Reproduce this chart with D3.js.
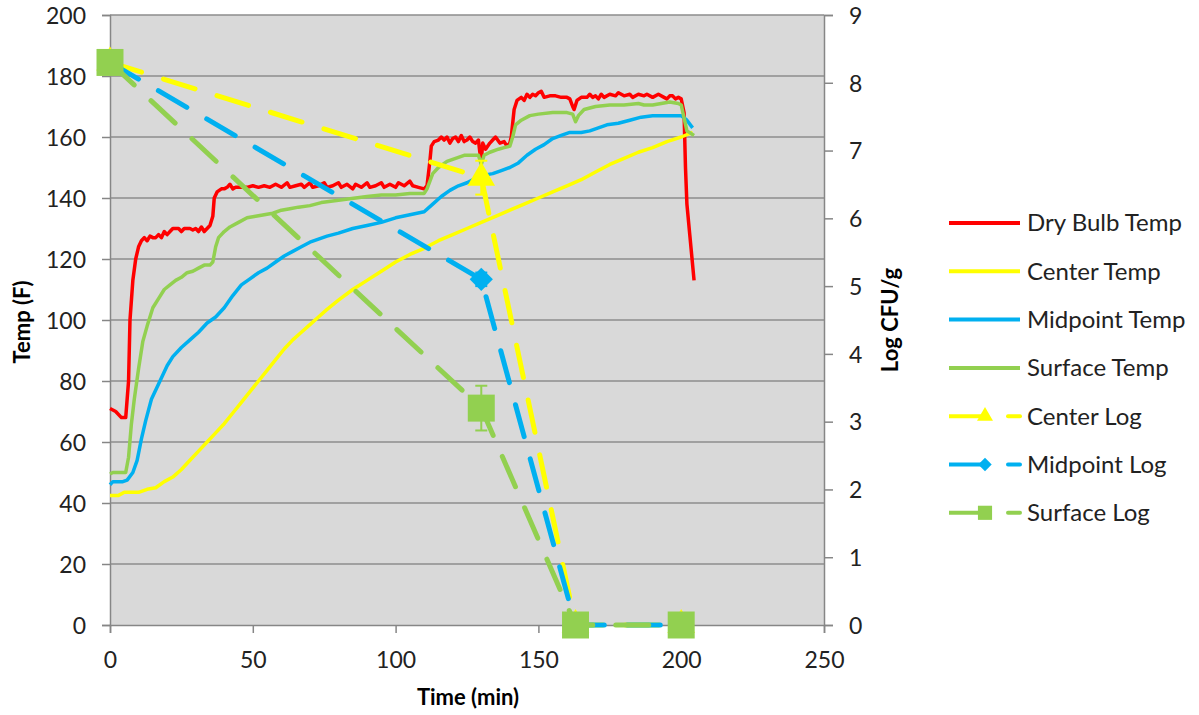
<!doctype html>
<html lang="en">

<head>
    <meta charset="UTF-8" />
    <script src="https://d3js.org/d3.v7.min.js"></script>
    <title>Temp and Log CFU/g</title>
    <style>
        body { margin: 0; background: white; }
    </style>
</head>

<body>
    <div id="chart"></div>
    <script type="module">
        // Data: [time (min), temp (F)]
        const dryBulbTemp = [[0, 71], [2, 70], [4, 68], [5.5, 68], [6.5, 80], [7, 100], [8, 113], [9, 120], [10, 124], [11, 126], [12, 127], [13, 126], [14, 127.5], [15, 127], [16, 127], [17, 128], [18, 127], [19, 129], [20, 128], [21, 129], [22, 130], [24, 130], [25, 129], [26, 130], [28, 130], [29, 129.5], [30, 130], [31, 129], [32, 130.5], [33, 129], [34, 130], [35, 131], [36, 134], [36.5, 140], [37.5, 142], [39, 143], [40, 143], [41, 143.5], [42, 144.5], [43, 143], [44, 143.5], [46, 143.5], [48, 143.5], [50, 144], [52, 143.5], [54, 144], [56, 143.5], [58, 144.5], [60, 143.5], [62, 145], [63, 143.5], [65, 144], [67, 144.5], [68, 143.5], [70, 145], [71, 143.5], [73, 144], [75, 145], [76, 143.5], [78, 144], [80, 145], [81, 143.5], [83, 144.5], [85, 143], [86, 144.5], [88, 143.5], [90, 145], [91, 143.5], [93, 144], [95, 145], [96, 143.5], [98, 144.5], [100, 143.5], [101, 145], [103, 144], [105, 145.5], [106, 144], [108, 143.5], [110, 143], [111, 144], [112, 152], [112.5, 157], [113.5, 158.5], [115, 159], [116, 160], [117, 159], [118, 160], [119, 158], [120, 159.5], [121, 160], [122, 158.5], [123, 160.5], [124, 158.5], [125, 159], [126, 160], [127, 158.5], [128, 158], [129, 159], [129.5, 155], [130, 152], [130.5, 158], [131.5, 156], [133, 158], [134, 159], [135, 160], [136.5, 158], [138, 158.5], [139, 157], [140, 158], [140.5, 160], [141.5, 169], [142.5, 172], [144, 173], [145, 172], [146, 174], [147, 173], [148, 174], [149, 173.5], [150, 174.5], [151, 175], [152, 173], [154, 173.5], [156, 173.5], [158, 173], [160, 173], [161, 172.5], [162, 170], [162.5, 169], [163.5, 172], [165, 173], [167, 173], [168, 174], [169, 173], [170, 173.5], [171, 172.5], [172, 174], [173, 173], [175, 174], [177, 173.5], [178, 174.5], [180, 173.5], [182, 174], [183, 173], [185, 174], [187, 173.5], [188, 174], [190, 173], [192, 174], [194, 173], [195, 172.5], [196, 173.5], [197, 173.5], [198, 172.5], [199, 173], [200, 172.5], [201, 168], [201.5, 150], [202, 138], [203, 128], [204.5, 113]]

        const centerTemp = [[0, 42.5], [3, 42.5], [5, 43.5], [10, 43.5], [13, 44.5], [16, 45], [19, 47], [22, 48.5], [25, 51], [28, 54], [31, 57], [34, 60], [37, 63], [40, 66], [43, 69.5], [46, 73], [49, 76.5], [52, 80], [55, 83.5], [58, 87], [61, 90.5], [64, 93.5], [67, 96], [70, 98.5], [73, 101], [76, 103.5], [80, 106.5], [85, 110], [90, 113], [95, 116], [100, 119], [105, 121.5], [110, 123.5], [115, 126], [120, 128], [125, 130], [130, 132], [135, 134], [140, 136], [145, 138], [150, 140], [155, 142], [160, 144], [165, 146], [170, 148.5], [175, 151], [180, 153], [185, 155], [190, 156.5], [195, 158.5], [200, 160], [204, 161.5]]

        const midpointTemp = [[0, 46], [1, 47], [4.5, 47], [6, 47.5], [8, 50], [9.5, 54], [11, 61], [12.5, 67], [14.5, 74], [17.5, 80], [20, 85], [22, 88], [25, 91], [28, 93.5], [31, 96], [34, 99], [37, 101], [40, 104], [43, 108], [46, 111.5], [49, 113.5], [52, 115.5], [55, 117], [58, 119], [61, 121], [64, 122.5], [67, 124], [70, 125.5], [73, 126.5], [76, 127.5], [80, 128.5], [85, 130], [90, 131], [95, 132], [100, 133.5], [105, 134.5], [110, 135.5], [113, 138], [116, 140.5], [119, 142.5], [122, 144], [125, 145], [128, 146.5], [131, 147.5], [134, 148], [137, 149], [140, 150], [143, 151.5], [146, 154], [149, 156], [152, 157.5], [155, 159.5], [158, 160.5], [161, 161.5], [165, 161.5], [168, 162], [171, 163], [174, 164], [178, 164.5], [182, 165.5], [186, 166.5], [190, 167], [194, 167], [198, 167], [200, 167], [202, 165.5], [204, 163]]

        const surfaceTemp = [[0, 49.5], [1, 50], [5.5, 50], [6.5, 55], [7.5, 66], [8.5, 74], [10, 84], [11.5, 93], [13, 98], [15, 104], [17, 107], [19, 110], [21, 111.5], [23, 113], [25, 114], [27, 115.5], [29, 116], [31, 117], [33, 118], [35, 118], [36, 119], [37, 124], [38, 127], [40, 129], [42, 130.5], [45, 132], [48, 133.5], [51, 134], [54, 134.5], [57, 135], [60, 136], [63, 136.5], [66, 137], [70, 137.5], [74, 138.5], [78, 139], [82, 139.5], [86, 140], [90, 140.5], [95, 141], [100, 141], [105, 141.5], [110, 141.5], [111, 143], [113, 148], [115, 150], [118, 152], [121, 153], [124, 154], [127, 154], [129, 154], [130, 151], [131, 154], [133, 155], [136, 156], [138, 156.5], [140, 157], [141, 160], [142, 164], [144, 165.5], [147, 167], [150, 167.5], [155, 168], [160, 168], [162, 167.5], [163, 165], [164, 167], [166, 169], [170, 170], [175, 170.5], [180, 170.5], [185, 171], [187, 170.5], [190, 170.5], [193, 171], [196, 171.5], [199, 171], [200, 170.5], [202, 162], [204.5, 160.5]]

        // Log CFU/g samples
        const logTimes = [0, 130, 163, 200]
        const centerLog = [8.3, 6.6, 0, 0]
        const midpointLog = [8.3, 5.1, 0, 0]
        const surfaceLog = [8.3, 3.2, 0, 0]
        const centerLogErr = [0, 0.25, 0, 0]
        const midpointLogErr = [0, 0.1, 0, 0]
        const surfaceLogErr = [0, 0.33, 0, 0]

        // Ticks
        const timeTicks = [0, 50, 100, 150, 200, 250]
        const tempTicks = [0, 20, 40, 60, 80, 100, 120, 140, 160, 180, 200]
        const logTicks = [0, 1, 2, 3, 4, 5, 6, 7, 8, 9]

        const RED = "#ff0000", YELLOW = "#ffff00", BLUE = "#00b0f0", GREEN = "#92d050"
        const FONT = "Lato, 'Open Sans', sans-serif"
        const AXIS = "#868686"

        const W = 1199, H = 715
        const margin = { top: 15, right: 375, bottom: 90, left: 110 }
        const width = W - margin.left - margin.right
        const height = H - margin.top - margin.bottom

        const x = d3.scaleLinear().domain([0, 250]).range([0, width])
        const y = d3.scaleLinear().domain([0, 200]).range([height, 0])
        const y2 = d3.scaleLinear().domain([0, 9]).range([height, 0])

        const root = d3.select("#chart").append("svg")
            .attr("width", W)
            .attr("height", H)
            .style("font-family", FONT)

        const svg = root.append("g")
            .attr("transform", `translate(${margin.left},${margin.top})`)

        // plot background
        svg.append("rect")
            .attr("width", width)
            .attr("height", height)
            .attr("fill", "#d9d9d9")

        // horizontal gridlines
        svg.append("g")
            .selectAll("line")
            .data(tempTicks.filter(d => d > 0))
            .join("line")
            .attr("x1", 0)
            .attr("x2", width)
            .attr("y1", d => y(d))
            .attr("y2", d => y(d))
            .attr("stroke", "#8c8c8c")
            .attr("stroke-width", 1.5)

        // axes
        const styleAxis = g => {
            g.select(".domain").attr("stroke", AXIS).attr("stroke-width", 1.5)
            g.selectAll(".tick line").attr("stroke", AXIS).attr("stroke-width", 1.5)
            g.selectAll(".tick text").attr("fill", "#222").style("font-size", "23px").style("font-family", FONT)
        }

        svg.append("g")
            .attr("transform", `translate(0,${height})`)
            .call(d3.axisBottom(x).tickValues(timeTicks).tickSizeOuter(0).tickSize(8).tickPadding(19))
            .call(styleAxis)

        svg.append("g")
            .call(d3.axisLeft(y).tickValues(tempTicks).tickSizeOuter(0).tickSize(8).tickPadding(16))
            .call(styleAxis)
            .selectAll(".tick text").attr("dy", "0.36em")

        svg.append("g")
            .attr("transform", `translate(${width},0)`)
            .call(d3.axisRight(y2).tickValues(logTicks).tickSizeOuter(0).tickSize(9).tickPadding(16))
            .call(styleAxis)
            .selectAll(".tick text").attr("dy", "0.36em")

        // axis titles
        root.append("text")
            .attr("x", 468)
            .attr("y", 705)
            .attr("text-anchor", "middle")
            .style("font-size", "22px")
            .style("font-weight", "bold")
            .text("Time (min)")

        root.append("text")
            .attr("transform", "translate(30,322) rotate(-90)")
            .attr("text-anchor", "middle")
            .style("font-size", "22px")
            .style("font-weight", "bold")
            .text("Temp (F)")

        root.append("text")
            .attr("transform", "translate(898,320) rotate(-90)")
            .attr("text-anchor", "middle")
            .style("font-size", "22px")
            .style("font-weight", "bold")
            .text("Log CFU/g")

        // temperature lines
        const tempLine = d3.line()
            .x(d => x(d[0]))
            .y(d => y(d[1]))

        const tempSeries = [
            { name: "Dry Bulb Temp", data: dryBulbTemp, color: RED },
            { name: "Center Temp", data: centerTemp, color: YELLOW },
            { name: "Midpoint Temp", data: midpointTemp, color: BLUE },
            { name: "Surface Temp", data: surfaceTemp, color: GREEN }
        ]

        svg.selectAll(".temp")
            .data(tempSeries)
            .join("path")
            .attr("class", "temp")
            .attr("d", d => tempLine(d.data))
            .attr("fill", "none")
            .attr("stroke", d => d.color)
            .attr("stroke-width", 3.5)
            .attr("stroke-linejoin", "round")

        // log series
        const logSeries = [
            { name: "Center Log", values: centerLog, err: centerLogErr, color: YELLOW, symbol: d3.symbolTriangle, size: 330, rotate: 0 },
            { name: "Midpoint Log", values: midpointLog, err: midpointLogErr, color: BLUE, symbol: d3.symbolSquare, size: 270, rotate: 45 },
            { name: "Surface Log", values: surfaceLog, err: surfaceLogErr, color: GREEN, symbol: d3.symbolSquare, size: 729, rotate: 0 }
        ]

        const logLine = d3.line()
            .x((d, i) => x(logTimes[i]))
            .y(d => y2(d))

        logSeries.forEach(s => {
            const g = svg.append("g")

            g.append("path")
                .attr("d", logLine(s.values))
                .attr("fill", "none")
                .attr("stroke", s.color)
                .attr("stroke-width", 5)
                .attr("stroke-linecap", "round")
                .attr("stroke-dasharray", "33,23")

            // error bars
            s.values.forEach((v, i) => {
                if (!s.err[i]) return
                const cx = x(logTimes[i])
                const bar = g.append("g").attr("stroke", s.color).attr("stroke-width", 2)
                bar.append("line").attr("x1", cx).attr("x2", cx).attr("y1", y2(v - s.err[i])).attr("y2", y2(v + s.err[i]))
                bar.append("line").attr("x1", cx - 6).attr("x2", cx + 6).attr("y1", y2(v - s.err[i])).attr("y2", y2(v - s.err[i]))
                bar.append("line").attr("x1", cx - 6).attr("x2", cx + 6).attr("y1", y2(v + s.err[i])).attr("y2", y2(v + s.err[i]))
            })

            g.selectAll(".marker")
                .data(s.values)
                .join("path")
                .attr("class", "marker")
                .attr("d", d3.symbol().type(s.symbol).size(s.size))
                .attr("transform", (d, i) => `translate(${x(logTimes[i])},${y2(d)}) rotate(${s.rotate})`)
                .attr("fill", s.color)
        })

        // legend
        const legend = root.append("g")
            .attr("transform", "translate(949,223)")

        const allSeries = [...tempSeries, ...logSeries]
        allSeries.forEach((s, i) => {
            const row = legend.append("g")
                .attr("transform", `translate(0,${i * 48.3})`)

            if (s.symbol) {
                row.append("line")
                    .attr("x1", 0).attr("x2", 36).attr("y1", 0).attr("y2", 0)
                    .attr("stroke", s.color).attr("stroke-width", 4)
                row.append("line")
                    .attr("x1", 59).attr("x2", 71).attr("y1", 0).attr("y2", 0)
                    .attr("stroke", s.color).attr("stroke-width", 4).attr("stroke-linecap", "round")
                row.append("path")
                    .attr("d", d3.symbol().type(s.symbol).size(s.symbol === d3.symbolTriangle ? 110 : (s.rotate ? 90 : 200)))
                    .attr("transform", `translate(36,0) rotate(${s.rotate})`)
                    .attr("fill", s.color)
            } else {
                row.append("line")
                    .attr("x1", 0).attr("x2", 71).attr("y1", 0).attr("y2", 0)
                    .attr("stroke", s.color).attr("stroke-width", 4)
            }

            row.append("text")
                .attr("x", 78)
                .attr("y", 0)
                .attr("dy", "0.35em")
                .attr("fill", "#222")
                .style("font-size", "24px")
                .text(s.name)
        })
    </script>
</body>

</html>
